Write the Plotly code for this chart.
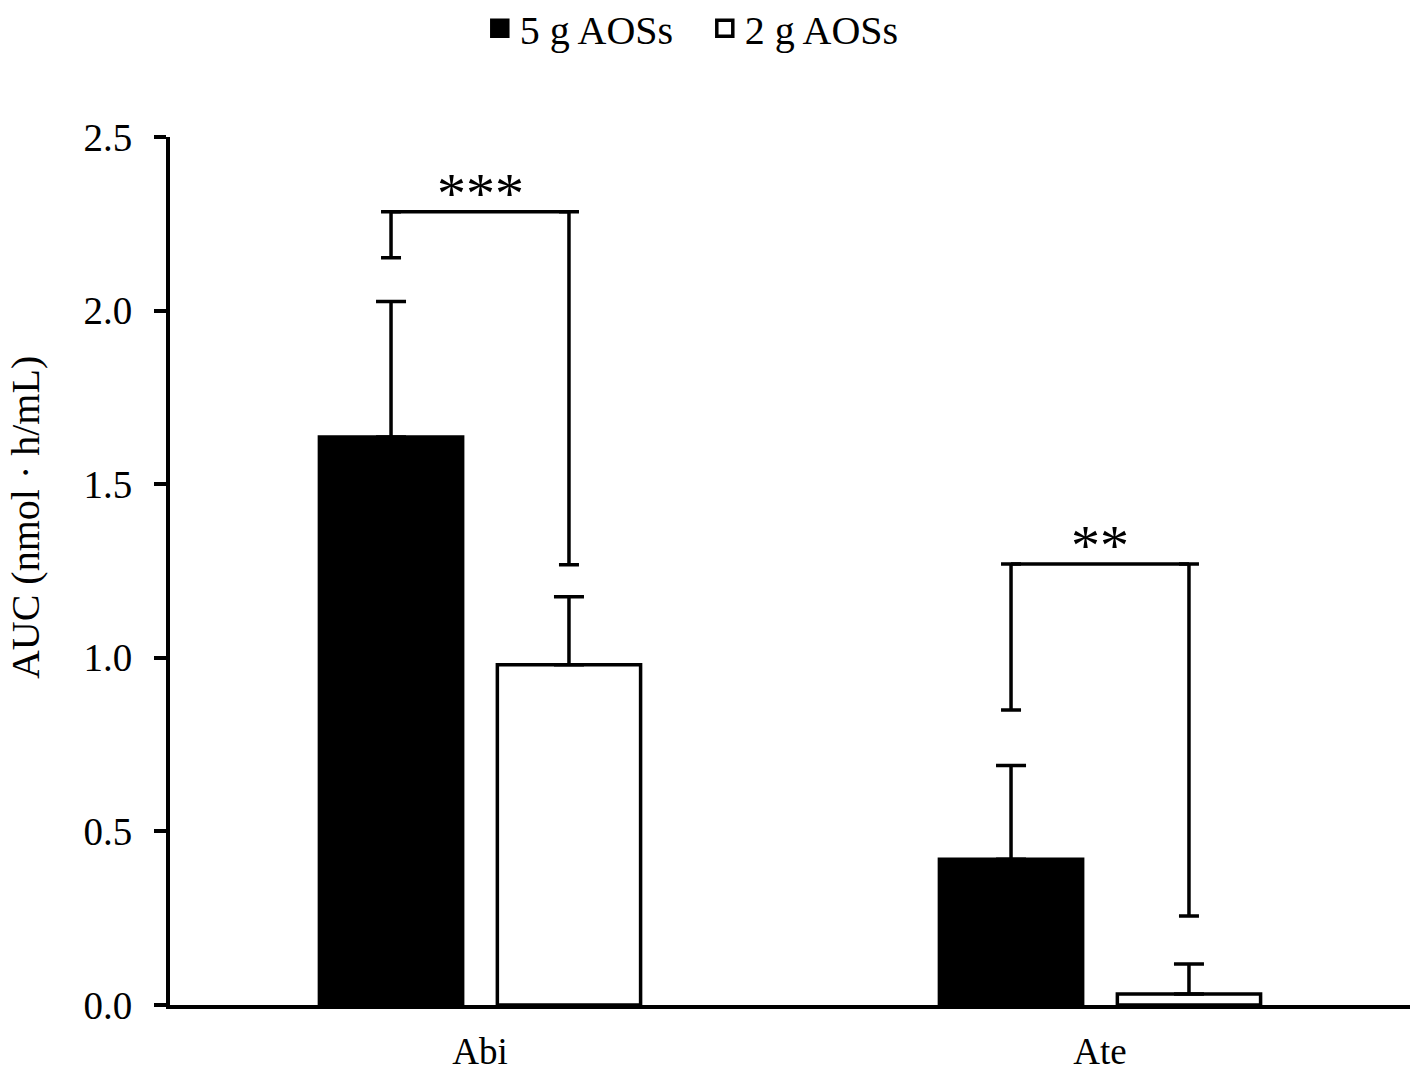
import plotly.graph_objects as go

categories = ["Abi", "Ate"]
x_pos = [0, 1]
series_names = ["5 g AOSs", "2 g AOSs"]
series_fill = ["black", "white"]
auc_5g = [1.636, 0.42]
err_5g = [0.39, 0.27]
auc_2g = [0.98, 0.032]
err_2g = [0.196, 0.086]

# significance brackets: (top level, left leg bottom, right leg bottom, label)
bracket_top = [2.285, 1.27]
bracket_left_bottom = [2.152, 0.85]
bracket_right_bottom = [1.268, 0.256]
bracket_labels = ["***", "**"]
y_ticks = [0.0, 0.5, 1.0, 1.5, 2.0, 2.5]
y_title = "AUC (nmol · h/mL)"

FONT = "Liberation Serif, Times New Roman, serif"
bargap = 0.426
bargroupgap = 0.195
slot = (1 - bargap) / 2
half = slot / 2

fig = go.Figure()
for vals, errs, name, fill in [(auc_5g, err_5g, series_names[0], series_fill[0]),
                                (auc_2g, err_2g, series_names[1], series_fill[1])]:
    fig.add_trace(go.Bar(
        x=x_pos, y=vals, name=name, showlegend=False,
        marker=dict(color=fill, line=dict(color="black", width=3.5)),
        error_y=dict(type="data", symmetric=False, array=errs, arrayminus=[0, 0],
                     color="black", thickness=3.5, width=15),
    ))

for i, xc in enumerate(x_pos):
    xl = xc - half
    xr = xc + half
    top = bracket_top[i]
    fig.add_trace(go.Scatter(
        x=[xl, xr], y=[top, top], mode="lines",
        line=dict(color="black", width=3.5), showlegend=False, hoverinfo="skip",
    ))
    fig.add_trace(go.Scatter(
        x=[xl, xr], y=[top, top], mode="markers",
        marker=dict(size=1, color="rgba(0,0,0,0)"),
        error_y=dict(type="data", symmetric=False, array=[0, 0],
                     arrayminus=[top - bracket_left_bottom[i], top - bracket_right_bottom[i]],
                     color="black", thickness=3.5, width=10),
        showlegend=False, hoverinfo="skip",
    ))
    fig.add_annotation(
        x=xc, y=top, text=bracket_labels[i], showarrow=False,
        yanchor="bottom", yshift=-16, font=dict(family=FONT, size=58, color="black"),
    )

# legend entries (square keys like the reference)
for name, fill in zip(series_names, series_fill):
    fig.add_trace(go.Scatter(
        x=[None], y=[None], mode="markers", name=name,
        marker=dict(symbol="square", size=22, color=fill, line=dict(color="black", width=3.5)),
    ))

# y-axis title (placed as rotated text to match the reference position)
fig.add_annotation(
    xref="paper", yref="paper", x=-0.117, y=0.562, text=y_title, showarrow=False,
    textangle=-90, xanchor="center", yanchor="middle",
    font=dict(family=FONT, size=40, color="black"),
)

fig.update_layout(
    width=1402, height=1064,
    margin=dict(l=162, r=0, t=129, b=67),
    paper_bgcolor="white", plot_bgcolor="white",
    barmode="group", bargap=bargap, bargroupgap=bargroupgap,
    font=dict(family=FONT, size=38, color="black"),
    legend=dict(orientation="h", xref="container", yref="container",
                x=0.497, xanchor="center", y=0.981, yanchor="middle",
                font=dict(family=FONT, size=40), itemwidth=30, traceorder="normal",
                itemsizing="trace", tracegroupgap=0, entrywidth=180,
                entrywidthmode="pixels"),
    xaxis=dict(range=[-0.5, 1.5], tickvals=x_pos, ticktext=categories,
               showline=True, linecolor="black", linewidth=4, ticks="",
               showgrid=False, zeroline=False, tickfont=dict(size=37),
               ticklabelstandoff=11, automargin=False),
    yaxis=dict(range=[0, 2.5], tickvals=y_ticks, ticktext=[f"{v:.1f}" for v in y_ticks],
               showline=True, linecolor="black", linewidth=4, ticks="outside",
               ticklen=12, tickwidth=4, tickcolor="black", showgrid=False, zeroline=False,
               tickfont=dict(size=39), ticklabelstandoff=14, automargin=False),
)

fig.write_html("out.html")
